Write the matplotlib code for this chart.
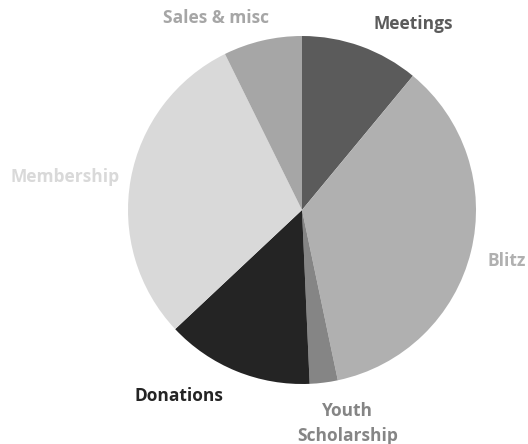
import matplotlib.pyplot as plt

# slice data (clockwise from 12 o'clock)
categories = ['Meetings', 'Blitz', 'Youth\nScholarship', 'Donations', 'Membership', 'Sales & misc']
shares = [11.0, 35.7, 2.6, 13.7, 29.7, 7.3]
colors = ['#5b5b5b', '#b0b0b0', '#858585', '#242424', '#d9d9d9', '#a6a6a6']

# label spots in pie units (radius = 1)
label_pos = [(0.64, 1.07), (1.178, -0.293), (0.26, -1.227), (-0.71, -1.07), (-1.362, 0.19), (-0.494, 1.103)]

W, H = 528, 444
cx, cy, r = 302, 210, 174

fig = plt.figure(figsize=(W / 100, H / 100), dpi=100)
ax = fig.add_axes([0, 0, 1, 1])

ax.pie(shares, colors=colors, startangle=90, counterclock=False,
       radius=1, wedgeprops=dict(linewidth=0))

for name, (x, y), c in zip(categories, label_pos, colors):
    ax.text(x, y, name, color=c, fontsize=12.5, fontweight='bold',
            family=['Open Sans', 'DejaVu Sans'], ha='center', va='center',
            linespacing=1.45)

ax.set_xlim(-cx / r, (W - cx) / r)
ax.set_ylim((cy - H) / r, cy / r)
ax.set_aspect('auto')
ax.axis('off')

fig.savefig('out.png', dpi=100)
